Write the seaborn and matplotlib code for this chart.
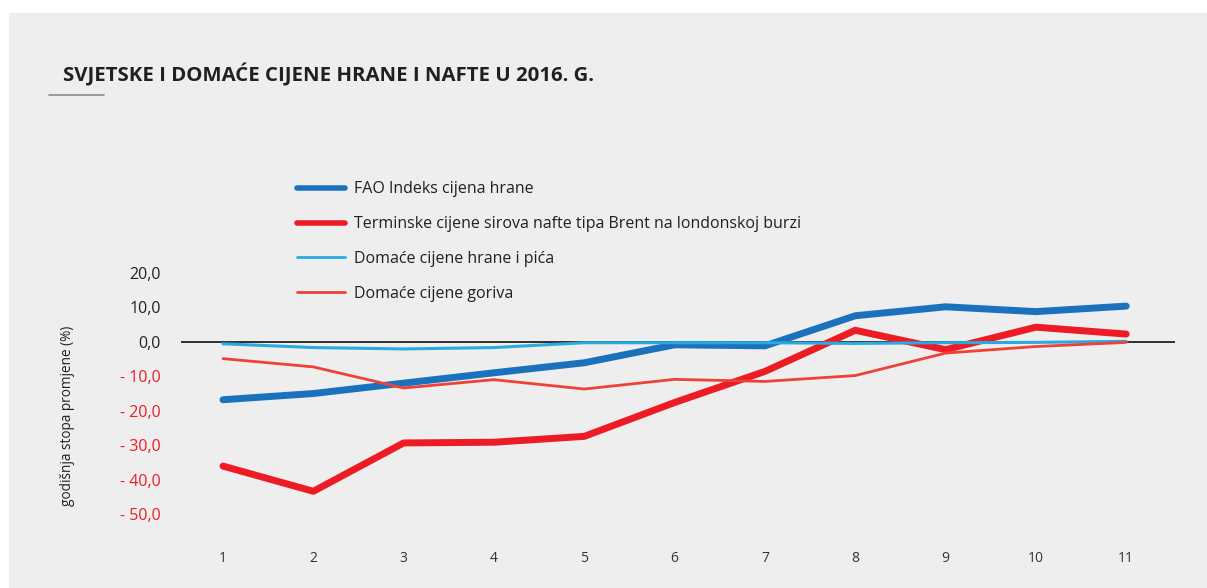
import numpy as np
import pandas as pd
import seaborn as sns
import matplotlib
matplotlib.use('Agg')
import matplotlib.pyplot as plt
from matplotlib.patches import Rectangle
from matplotlib.lines import Line2D

sns.set_style('white')
plt.rcParams['font.family'] = ['Open Sans', 'DejaVu Sans']

# mjeseci 2016.
months = [1, 2, 3, 4, 5, 6, 7, 8, 9, 10, 11]
fao = [-16.8, -15.0, -12.0, -9.0, -6.1, -0.9, -1.2, 7.5, 10.1, 8.7, 10.3]
brent = [-36.0, -43.3, -29.3, -29.1, -27.4, -17.6, -8.6, 3.3, -2.3, 4.2, 2.2]
hrana_pica = [-0.6, -1.7, -2.1, -1.7, -0.3, -0.3, -0.3, -0.5, -0.3, -0.2, 0.1]
goriva = [-4.9, -7.3, -13.4, -11.0, -13.7, -10.9, -11.5, -9.8, -3.3, -1.4, -0.2]

names = ['FAO Indeks cijena hrane',
         'Terminske cijene sirova nafte tipa Brent na londonskoj burzi',
         'Domaće cijene hrane i pića',
         'Domaće cijene goriva']
colors = ['#1b72bc', '#ed1c24', '#29abe2', '#ef4136']
widths = [5, 5, 2.2, 2]
yticks = [20, 10, 0, -10, -20, -30, -40, -50]
ytick_labels = ['20,0', '10,0', '0,0', '- 10,0', '- 20,0', '- 30,0', '- 40,0', '- 50,0']

df = pd.DataFrame({'mjesec': months, names[0]: fao, names[1]: brent,
                   names[2]: hrana_pica, names[3]: goriva})
long = df.melt(id_vars='mjesec', var_name='serija', value_name='vrijednost')

fig = plt.figure(figsize=(12.07, 5.88), dpi=100, facecolor='white')
bg = Rectangle((9 / 1207, 0), 1, 575 / 588, transform=fig.transFigure,
               facecolor='#eeeeee', edgecolor='none', zorder=-10)
fig.add_artist(bg)

ax = fig.add_axes([181 / 1207, 0.0957, 994 / 1207, 0.4701])
ax.set_facecolor('none')

ax.axhline(0, color='#231f20', lw=1.3, zorder=1)
for name, c, w in zip(names, colors, widths):
    sub = long[long['serija'] == name]
    sns.lineplot(data=sub, x='mjesec', y='vrijednost', color=c, linewidth=w,
                 solid_capstyle='round', ax=ax, legend=False, zorder=3)

ax.set_xlim(0.535, 11.54)
ax.set_ylim(-55, 25)
ax.set_xticks(months)
ax.set_xticklabels([str(m) for m in months], color='#333333', fontsize=10)
ax.set_yticks(yticks)
ax.set_yticklabels(ytick_labels, fontsize=11.5)
for lab, v in zip(ax.get_yticklabels(), yticks):
    lab.set_color('#231f20' if v >= 0 else '#ed1c24')
ax.tick_params(axis='x', length=0, pad=14)
ax.tick_params(axis='y', length=0, pad=14.5)
for s in ax.spines.values():
    s.set_visible(False)
ax.set_xlabel('')
ax.set_ylabel('godišnja stopa promjene (%)', fontsize=9.8, color='#231f20')
ax.yaxis.set_label_coords(-0.107, 0.42)

handles = [Line2D([], [], color=c, lw=lw, solid_capstyle='round')
           for c, lw in zip(colors, [4, 4, 2, 2])]
fig.legend(handles, names, loc='upper left', bbox_to_anchor=(291 / 1207, 1 - 175 / 588),
           frameon=False, fontsize=11.5, handlelength=3.0, handletextpad=0.55,
           labelspacing=1.18, borderaxespad=0, labelcolor='#231f20')

fig.text(63 / 1207, 1 - 81 / 588, 'SVJETSKE I DOMAĆE CIJENE HRANE I NAFTE U 2016. G.',
         fontsize=14.7, fontweight='bold', color='#231f20')
fig.add_artist(Line2D([49 / 1207, 104 / 1207], [1 - 95 / 588, 1 - 95 / 588],
                      transform=fig.transFigure, color='#8c8c8c', lw=1.2))

fig.savefig('out.png', dpi=100, facecolor=fig.get_facecolor())
